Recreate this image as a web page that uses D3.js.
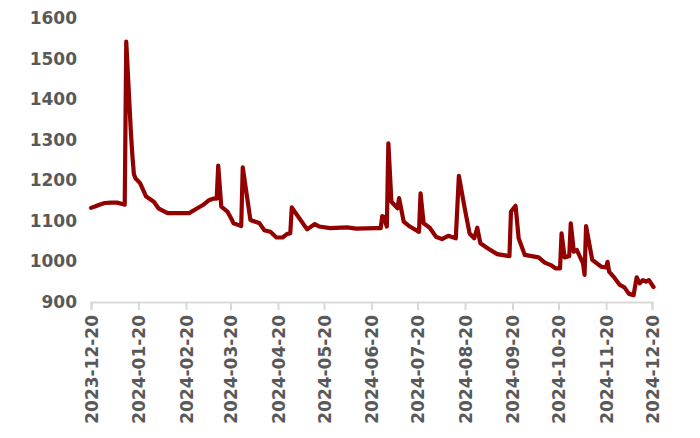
<!DOCTYPE html>
<html>
<head>
<meta charset="utf-8">
<script src="https://cdn.jsdelivr.net/npm/d3@7"></script>
<style>
  body { margin: 0; background: #fff; }
  svg text { font-family: "DejaVu Sans", sans-serif; font-weight: bold; fill: #595959; }
</style>
</head>
<body>
<div id="chart"></div>
<script>
// Dates and values
const dates = [
    '2023-12-20', '2023-12-23', '2023-12-25', '2023-12-29', '2024-01-02', '2024-01-06', '2024-01-10', '2024-01-11',
    '2024-01-12', '2024-01-15', '2024-01-16', '2024-01-17', '2024-01-18', '2024-01-21', '2024-01-25', '2024-01-30',
    '2024-02-02', '2024-02-06', '2024-02-08', '2024-02-22', '2024-02-26', '2024-03-02', '2024-03-06', '2024-03-09',
    '2024-03-11', '2024-03-12', '2024-03-14', '2024-03-18', '2024-03-21', '2024-03-22', '2024-03-27', '2024-03-28',
    '2024-04-02', '2024-04-08', '2024-04-11', '2024-04-15', '2024-04-19', '2024-04-23', '2024-04-26', '2024-04-28',
    '2024-04-29', '2024-05-09', '2024-05-14', '2024-05-17', '2024-05-24', '2024-06-04', '2024-06-10', '2024-06-23',
    '2024-06-26', '2024-06-27', '2024-06-28', '2024-06-30', '2024-07-01', '2024-07-03', '2024-07-07', '2024-07-08',
    '2024-07-11', '2024-07-15', '2024-07-21', '2024-07-22', '2024-07-24', '2024-07-28', '2024-08-01', '2024-08-05',
    '2024-08-09', '2024-08-14', '2024-08-16', '2024-08-20', '2024-08-23', '2024-08-26', '2024-08-28', '2024-08-30',
    '2024-09-04', '2024-09-10', '2024-09-18', '2024-09-19', '2024-09-22', '2024-09-24', '2024-09-28', '2024-10-07',
    '2024-10-11', '2024-10-15', '2024-10-18', '2024-10-21', '2024-10-22', '2024-10-24', '2024-10-27', '2024-10-28',
    '2024-10-30', '2024-11-01', '2024-11-05', '2024-11-06', '2024-11-07', '2024-11-11', '2024-11-17', '2024-11-20',
    '2024-11-21', '2024-11-22', '2024-11-25', '2024-11-29', '2024-12-02', '2024-12-05', '2024-12-08', '2024-12-10',
    '2024-12-12', '2024-12-14', '2024-12-16', '2024-12-18', '2024-12-21'
];
const values = [
    1132, 1136, 1139, 1144, 1145, 1145, 1141, 1140,
    1542, 1320, 1260, 1215, 1205, 1193, 1160, 1147,
    1131, 1123, 1119, 1119, 1128, 1139, 1151, 1155,
    1155, 1236, 1135, 1123, 1102, 1094, 1087, 1232,
    1102, 1094, 1077, 1073, 1059, 1059, 1068, 1069,
    1133, 1079, 1092, 1086, 1082, 1084, 1081, 1082,
    1082, 1112, 1110, 1086, 1291, 1147, 1131, 1156,
    1098, 1086, 1073, 1168, 1094, 1083, 1061, 1055,
    1063, 1057, 1211, 1127, 1069, 1057, 1083, 1045,
    1032, 1018, 1013, 1123, 1137, 1057, 1016, 1010,
    997, 991, 983, 983, 1069, 1010, 1013, 1094,
    1024, 1028, 995, 967, 1087, 1004, 987, 985,
    999, 975, 962, 942, 936, 920, 917, 961,
    946, 954, 950, 954, 937
];
const xTickLabels = [
    '2023-12-20', '2024-01-20', '2024-02-20', '2024-03-20', '2024-04-20', '2024-05-20', '2024-06-20',
    '2024-07-20', '2024-08-20', '2024-09-20', '2024-10-20', '2024-11-20', '2024-12-20'
];
const yTicks = [900, 1000, 1100, 1200, 1300, 1400, 1500, 1600];

const width = 700;
const height = 438;
const margin = { top: 18, right: 48, bottom: 136, left: 91 };

const parse = d3.timeParse('%Y-%m-%d');
const fmt = d3.timeFormat('%Y-%m-%d');
const data = dates.map((d, i) => ({ date: parse(d), value: values[i] }));

const svg = d3.select('#chart')
    .append('svg')
    .attr('width', width)
    .attr('height', height);

const xScale = d3.scaleTime()
    .domain([parse(xTickLabels[0]), parse(xTickLabels[xTickLabels.length - 1])])
    .range([margin.left, width - margin.right]);

const yScale = d3.scaleLinear()
    .domain([900, 1600])
    .range([height - margin.bottom, margin.top]);

// y axis: labels only, no line
const yAxis = svg.append('g')
    .attr('transform', `translate(${margin.left}, 0)`)
    .call(d3.axisLeft(yScale).tickValues(yTicks).tickSize(0).tickPadding(14).tickFormat(d3.format('d')));
yAxis.select('.domain').remove();
yAxis.selectAll('text').style('font-size', '17px');

// x axis with rotated date labels
const xAxis = svg.append('g')
    .attr('transform', `translate(0, ${height - margin.bottom})`)
    .call(d3.axisBottom(xScale).tickValues(xTickLabels.map(parse)).tickSize(8).tickFormat(fmt));
xAxis.select('.domain').attr('stroke', '#d9d9d9').attr('stroke-width', 2);
xAxis.selectAll('.tick line').attr('stroke', '#d9d9d9').attr('stroke-width', 2);
xAxis.selectAll('text')
    .style('font-size', '17px')
    .attr('transform', 'rotate(-90)')
    .attr('text-anchor', 'end')
    .attr('x', -13)
    .attr('y', 0)
    .attr('dy', '0.36em');

// the line
const line = d3.line()
    .x(d => xScale(d.date))
    .y(d => yScale(d.value));

svg.append('path')
    .datum(data)
    .attr('fill', 'none')
    .attr('stroke', '#930000')
    .attr('stroke-width', 4.2)
    .attr('stroke-linejoin', 'round')
    .attr('stroke-linecap', 'round')
    .attr('d', line);
</script>
</body>
</html>
